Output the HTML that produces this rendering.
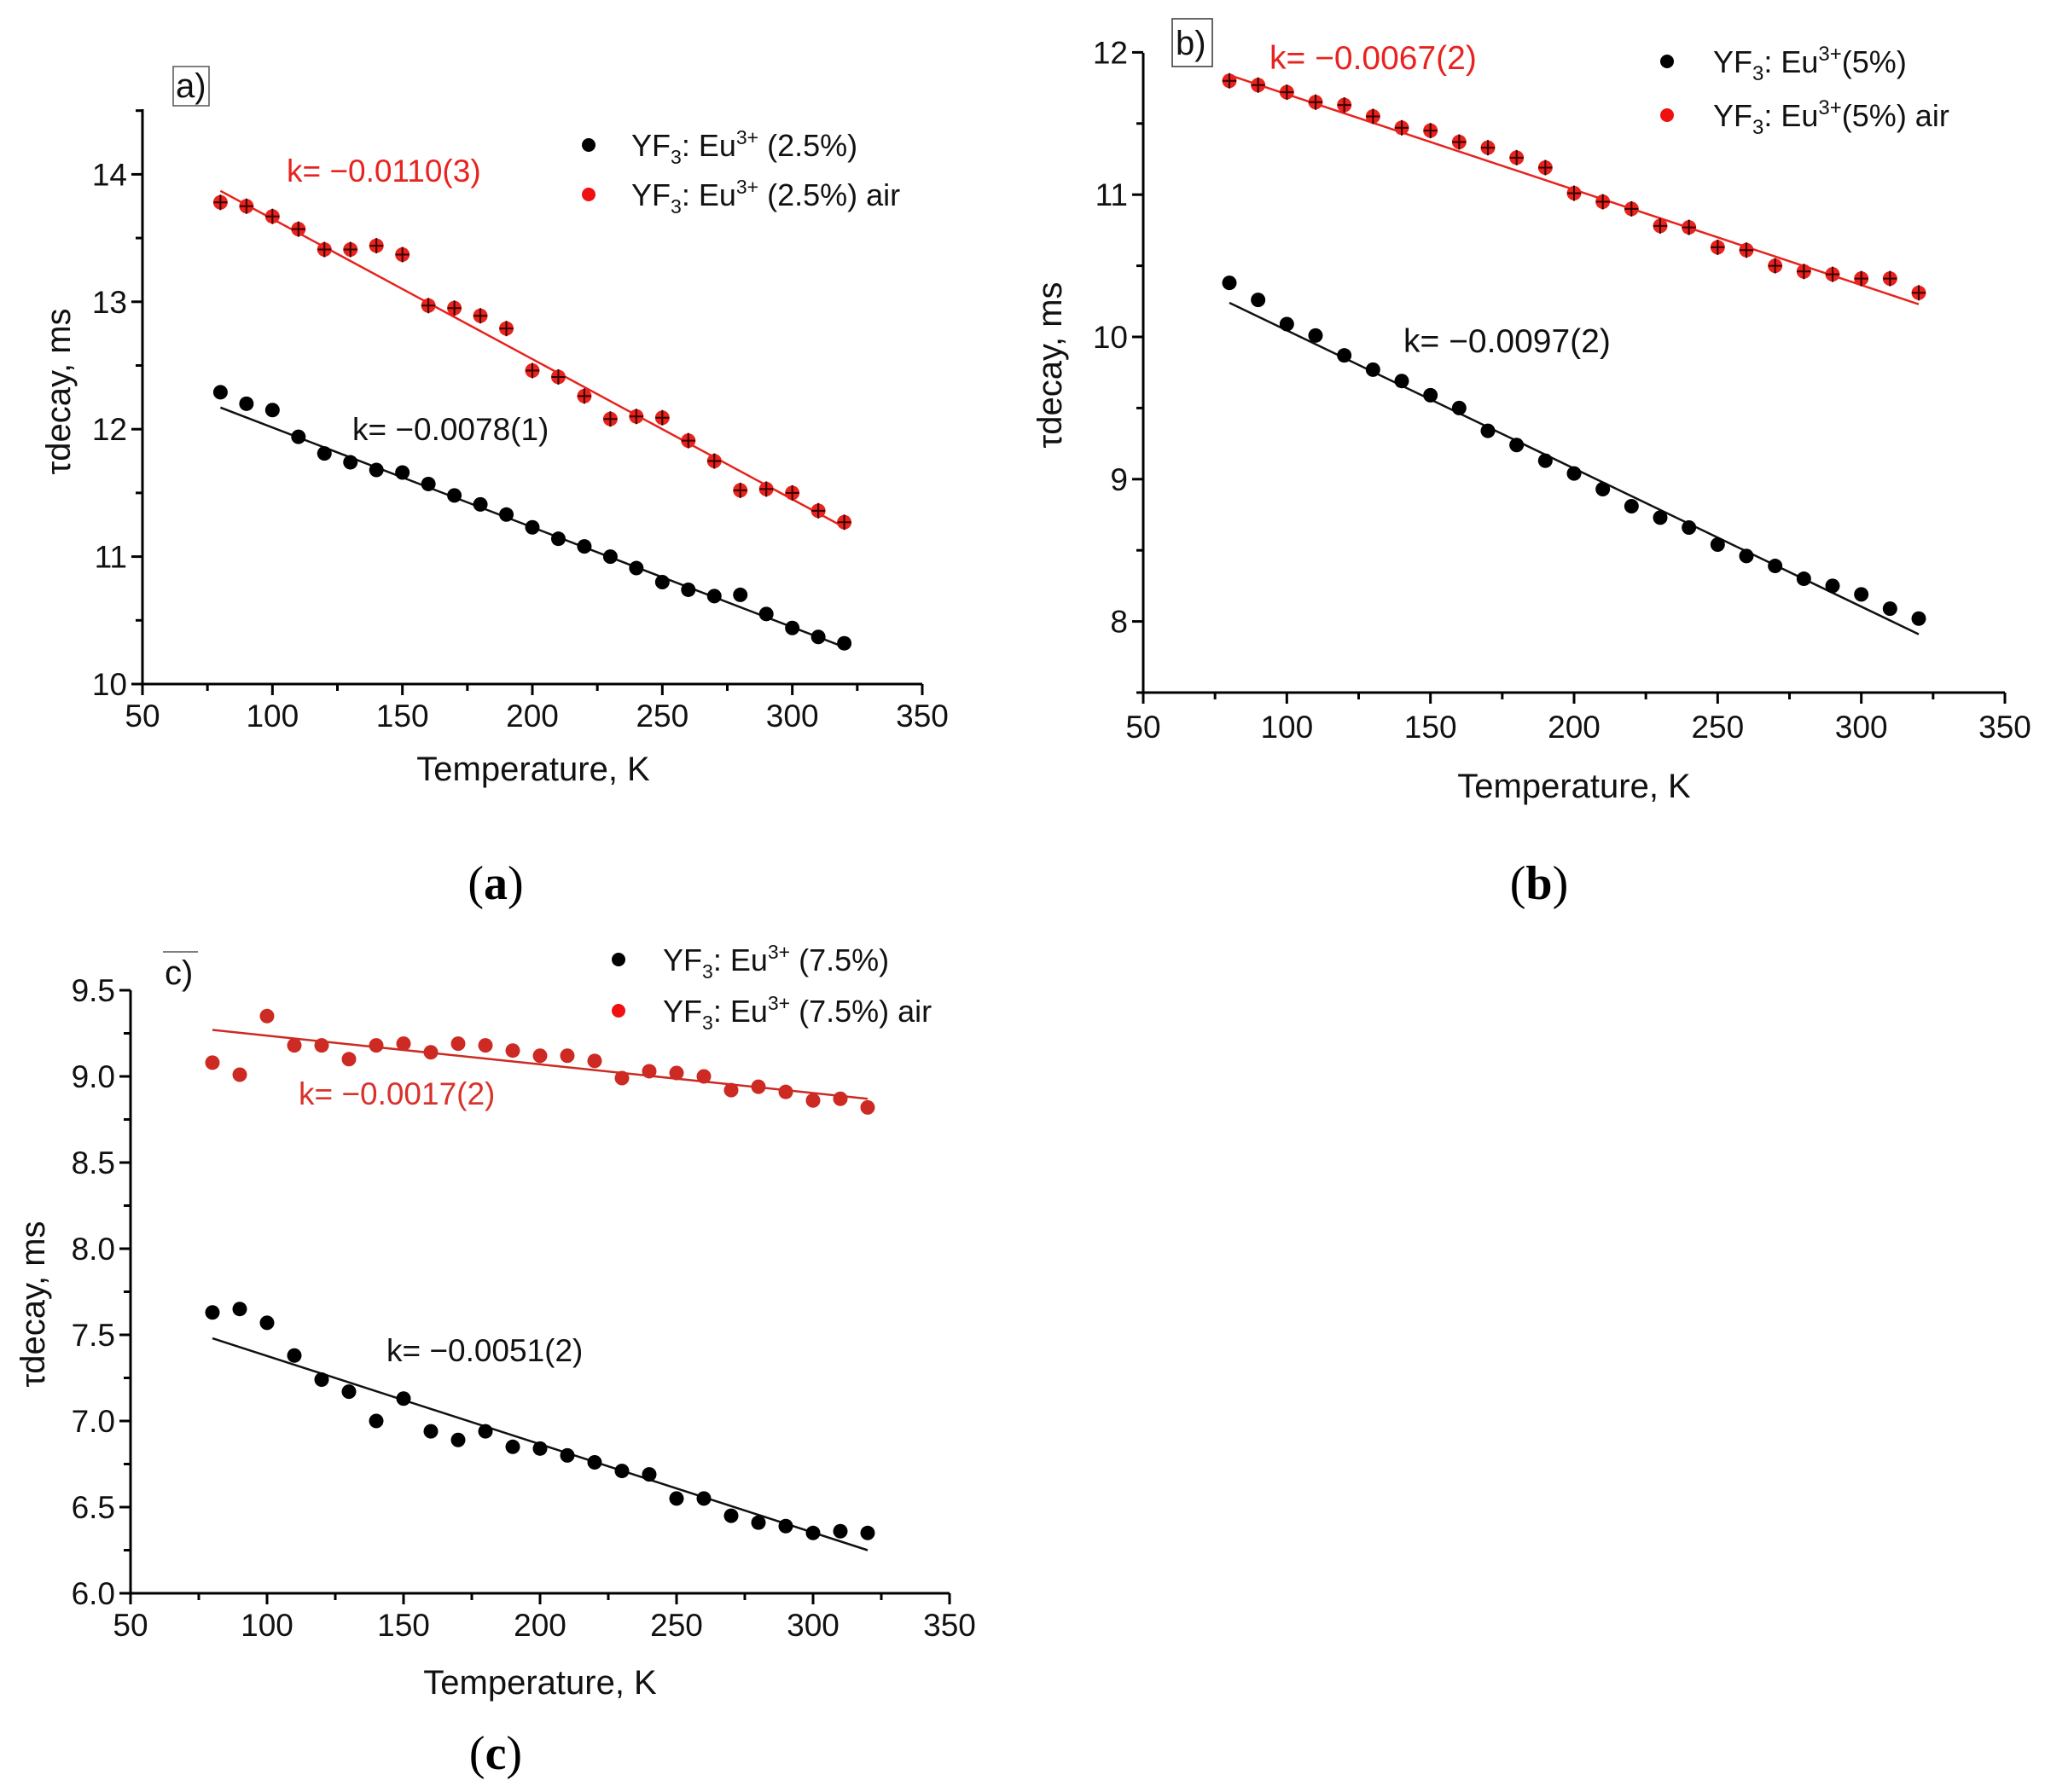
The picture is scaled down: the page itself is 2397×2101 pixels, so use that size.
<!DOCTYPE html>
<html><head><meta charset="utf-8"><style>
html,body{margin:0;padding:0;background:#fff;}
svg{display:block;font-family:"Liberation Sans",Arial,sans-serif;}
.tick{font-size:37px;fill:#111;}
.ttl{font-size:40px;fill:#111;}
.leg{font-size:36px;fill:#111;}
.cap{font-family:"Liberation Serif",serif;font-size:56px;fill:#000;}
</style></head><body>
<svg id="fig" width="2397" height="2101" viewBox="0 0 2397 2101" xmlns="http://www.w3.org/2000/svg">
<rect width="2397" height="2101" fill="#fff"/>
<g>
<rect x="203" y="78" width="42" height="46" fill="none" stroke="#555" stroke-width="1.5"/>
<text x="206" y="114" class="ttl" font-size="36">a)</text>
<text x="336" y="213" font-size="37" fill="#e8231f">k= −0.0110(3)</text>
<text x="413" y="516" font-size="37" fill="#111">k= −0.0078(1)</text>
<circle cx="690" cy="170" r="8" fill="#000"/>
<text x="740" y="183" class="leg">YF<tspan font-size="23" dy="9">3</tspan><tspan dy="-9">: Eu</tspan><tspan font-size="23" dy="-14">3+</tspan><tspan dy="14"> (2.5%)</tspan></text>
<circle cx="690" cy="228" r="8" fill="#f01010"/>
<text x="740" y="241" class="leg">YF<tspan font-size="23" dy="9">3</tspan><tspan dy="-9">: Eu</tspan><tspan font-size="23" dy="-14">3+</tspan><tspan dy="14"> (2.5%) air</tspan></text>
<text x="625" y="915" class="ttl" text-anchor="middle">Temperature, K</text>
<text transform="translate(82,459) rotate(-90)" class="ttl" text-anchor="middle">τdecay, ms</text>
<text x="581" y="1054" class="cap" text-anchor="middle">(<tspan font-weight="bold">a</tspan>)</text>
</g>
<g>
<rect x="1374" y="22" width="47" height="56" fill="none" stroke="#333" stroke-width="1.5"/>
<text x="1378" y="64" class="ttl" font-size="38">b)</text>
<text x="1488" y="81" font-size="39" fill="#e8231f">k= −0.0067(2)</text>
<text x="1645" y="413" font-size="39" fill="#111">k= −0.0097(2)</text>
<circle cx="1954" cy="72" r="8" fill="#000"/>
<text x="2008" y="85" class="leg" font-size="38">YF<tspan font-size="24" dy="9">3</tspan><tspan dy="-9">: Eu</tspan><tspan font-size="24" dy="-14">3+</tspan><tspan dy="14">(5%)</tspan></text>
<circle cx="1954" cy="135" r="8" fill="#f01010"/>
<text x="2008" y="148" class="leg" font-size="38">YF<tspan font-size="24" dy="9">3</tspan><tspan dy="-9">: Eu</tspan><tspan font-size="24" dy="-14">3+</tspan><tspan dy="14">(5%) air</tspan></text>
<text x="1845" y="935" class="ttl" font-size="42" text-anchor="middle">Temperature, K</text>
<text transform="translate(1244,428) rotate(-90)" class="ttl" font-size="42" text-anchor="middle">τdecay, ms</text>
<text x="1804" y="1054" class="cap" text-anchor="middle">(<tspan font-weight="bold">b</tspan>)</text>
</g>
<g>
<line x1="191" y1="1116" x2="232" y2="1116" stroke="#555" stroke-width="1.5"/>
<text x="193" y="1154" class="ttl" font-size="36">c)</text>
<text x="350" y="1295" font-size="37" fill="#d8322a">k= −0.0017(2)</text>
<text x="453" y="1596" font-size="37" fill="#111">k= −0.0051(2)</text>
<circle cx="725" cy="1125" r="8" fill="#000"/>
<text x="777" y="1138" class="leg">YF<tspan font-size="23" dy="9">3</tspan><tspan dy="-9">: Eu</tspan><tspan font-size="23" dy="-14">3+</tspan><tspan dy="14"> (7.5%)</tspan></text>
<circle cx="725" cy="1185" r="8" fill="#f01010"/>
<text x="777" y="1198" class="leg">YF<tspan font-size="23" dy="9">3</tspan><tspan dy="-9">: Eu</tspan><tspan font-size="23" dy="-14">3+</tspan><tspan dy="14"> (7.5%) air</tspan></text>
<text x="633" y="1986" class="ttl" text-anchor="middle">Temperature, K</text>
<text transform="translate(52,1529) rotate(-90)" class="ttl" text-anchor="middle">τdecay, ms</text>
<text x="581" y="2074" class="cap" text-anchor="middle">(<tspan font-weight="bold">c</tspan>)</text>
</g>
</svg>
<script>
const temps = [80,90,100,110,120,130,140,150,160,170,180,190,200,210,220,230,240,250,260,270,280,290,300,310,320];
const xTicks = [50,100,150,200,250,300,350];
const aBlack = [12.29,12.2,12.15,11.94,11.81,11.74,11.68,11.66,11.57,11.48,11.41,11.33,11.23,11.14,11.08,11.0,10.91,10.8,10.74,10.69,10.7,10.55,10.44,10.37,10.32];
const aRed = [13.78,13.75,13.67,13.57,13.41,13.41,13.44,13.37,12.97,12.95,12.89,12.79,12.46,12.41,12.26,12.08,12.1,12.09,11.91,11.75,11.52,11.53,11.5,11.36,11.27];
const aBlackFit = [12.17,10.29];
const aRedFit = [13.87,11.23];
const aYTicks = [10,11,12,13,14];
const bBlack = [10.38,10.26,10.09,10.01,9.87,9.77,9.69,9.59,9.5,9.34,9.24,9.13,9.04,8.93,8.81,8.73,8.66,8.54,8.46,8.39,8.3,8.25,8.19,8.09,8.02];
const bRed = [11.8,11.77,11.72,11.65,11.63,11.55,11.47,11.45,11.37,11.33,11.26,11.19,11.01,10.95,10.9,10.78,10.77,10.63,10.61,10.5,10.46,10.44,10.41,10.41,10.31];
const bBlackFit = [10.24,7.91];
const bRedFit = [11.84,10.23];
const bYTicks = [8,9,10,11,12];
const cBlack = [7.63,7.65,7.57,7.38,7.24,7.17,7.0,7.13,6.94,6.89,6.94,6.85,6.84,6.8,6.76,6.71,6.69,6.55,6.55,6.45,6.41,6.39,6.35,6.36,6.35];
const cRed = [9.08,9.01,9.35,9.18,9.18,9.1,9.18,9.19,9.14,9.19,9.18,9.15,9.12,9.12,9.09,8.99,9.03,9.02,9.0,8.92,8.94,8.91,8.86,8.87,8.82];
const cBlackFit = [7.48,6.25];
const cRedFit = [9.27,8.87];
const cYTicks = ['6.0','6.5','7.0','7.5','8.0','8.5','9.0','9.5'];

const NS='http://www.w3.org/2000/svg';
const svg=document.getElementById('fig');
function mk(tag,attrs,parent){const e=document.createElementNS(NS,tag);for(const k in attrs)e.setAttribute(k,attrs[k]);(parent||svg).appendChild(e);return e;}

function panel(id,cfg,yTicks,black,red,blackFit,redFit){
  const g=mk('g',{});
  
  
  const X=v=>cfg.x0+(v-50)/300*(cfg.x1-cfg.x0);
  const Y=v=>cfg.yb-(v-cfg.vmin)*cfg.pu;
  const xa=mk('line',{x1:cfg.x0,y1:cfg.yb,x2:cfg.x1,y2:cfg.yb,stroke:'#000','stroke-width':3},g);
  
  
  const ya=mk('line',{x1:cfg.x0,y1:cfg.yb,x2:cfg.x0,y2:cfg.ytop,stroke:'#000','stroke-width':3},g);
  
  
  xTicks.forEach((t,i)=>{
    mk('line',{x1:X(t),y1:cfg.yb,x2:X(t),y2:cfg.yb+13,stroke:'#000','stroke-width':3},g);
    if(i<xTicks.length-1) mk('line',{x1:X(t+25),y1:cfg.yb,x2:X(t+25),y2:cfg.yb+8,stroke:'#000','stroke-width':3},g);
    const tl=mk('text',{x:X(t),y:cfg.yb+cfg.tdy,'text-anchor':'middle',class:'tick','font-size':cfg.fs},g);
    tl.textContent=t;
    
    
  });
  yTicks.forEach(t=>{
    const v=parseFloat(t);
    mk('line',{x1:cfg.x0-13,y1:Y(v),x2:cfg.x0,y2:Y(v),stroke:'#000','stroke-width':3},g);
    const mv=v+cfg.minor;
    if(Y(mv)>=cfg.ytop-2) mk('line',{x1:cfg.x0-8,y1:Y(mv),x2:cfg.x0,y2:Y(mv),stroke:'#000','stroke-width':3},g);
    const tl=mk('text',{x:cfg.x0-18,y:Y(v)+13,'text-anchor':'end',class:'tick','font-size':cfg.fs},g);
    tl.textContent=t;
    
    
  });
  if(cfg.belowMinor) mk('line',{x1:cfg.x0-8,y1:cfg.yb,x2:cfg.x0,y2:cfg.yb,stroke:'#000','stroke-width':3},g);
  [[blackFit,'#111','black'],[redFit,cfg.red,'red']].forEach(([f,c,n])=>{
    const l=mk('line',{x1:X(temps[0]),y1:Y(f[0]),x2:X(temps[temps.length-1]),y2:Y(f[1]),stroke:c,'stroke-width':2.5},g);
    
    
  });
  [[black,'#000','black'],[red,cfg.red,'red']].forEach(([arr,c,n])=>{
    arr.forEach((v,i)=>{
      const p=mk('circle',{cx:X(temps[i]),cy:Y(v),r:8.5,fill:c},g);
      
      
      if(n==='red'&&cfg.err){
        mk('line',{x1:X(temps[i])-8,y1:Y(v),x2:X(temps[i])+8,y2:Y(v),stroke:'#300','stroke-width':2},g);
        mk('line',{x1:X(temps[i]),y1:Y(v)-9,x2:X(temps[i]),y2:Y(v)+9,stroke:'#300','stroke-width':2},g);
      }
    });
  });
}
panel('a',{x0:167,x1:1081,yb:802,ytop:128,vmin:10,pu:149.4,minor:0.5,tdy:50,fs:36,red:'#e8221c',err:true},aYTicks,aBlack,aRed,aBlackFit,aRedFit);
panel('b',{x0:1340,x1:2350,yb:812,ytop:62,vmin:7.5,pu:166.8,minor:0.5,tdy:53,fs:39,red:'#e8221c',err:true,belowMinor:true},bYTicks,bBlack,bRed,bBlackFit,bRedFit);
panel('c',{x0:153,x1:1113,yb:1868,ytop:1161,vmin:6,pu:202,minor:0.25,tdy:50,fs:36,red:'#cc2a22',err:false},cYTicks,cBlack,cRed,cBlackFit,cRedFit);
</script>
</body></html>
